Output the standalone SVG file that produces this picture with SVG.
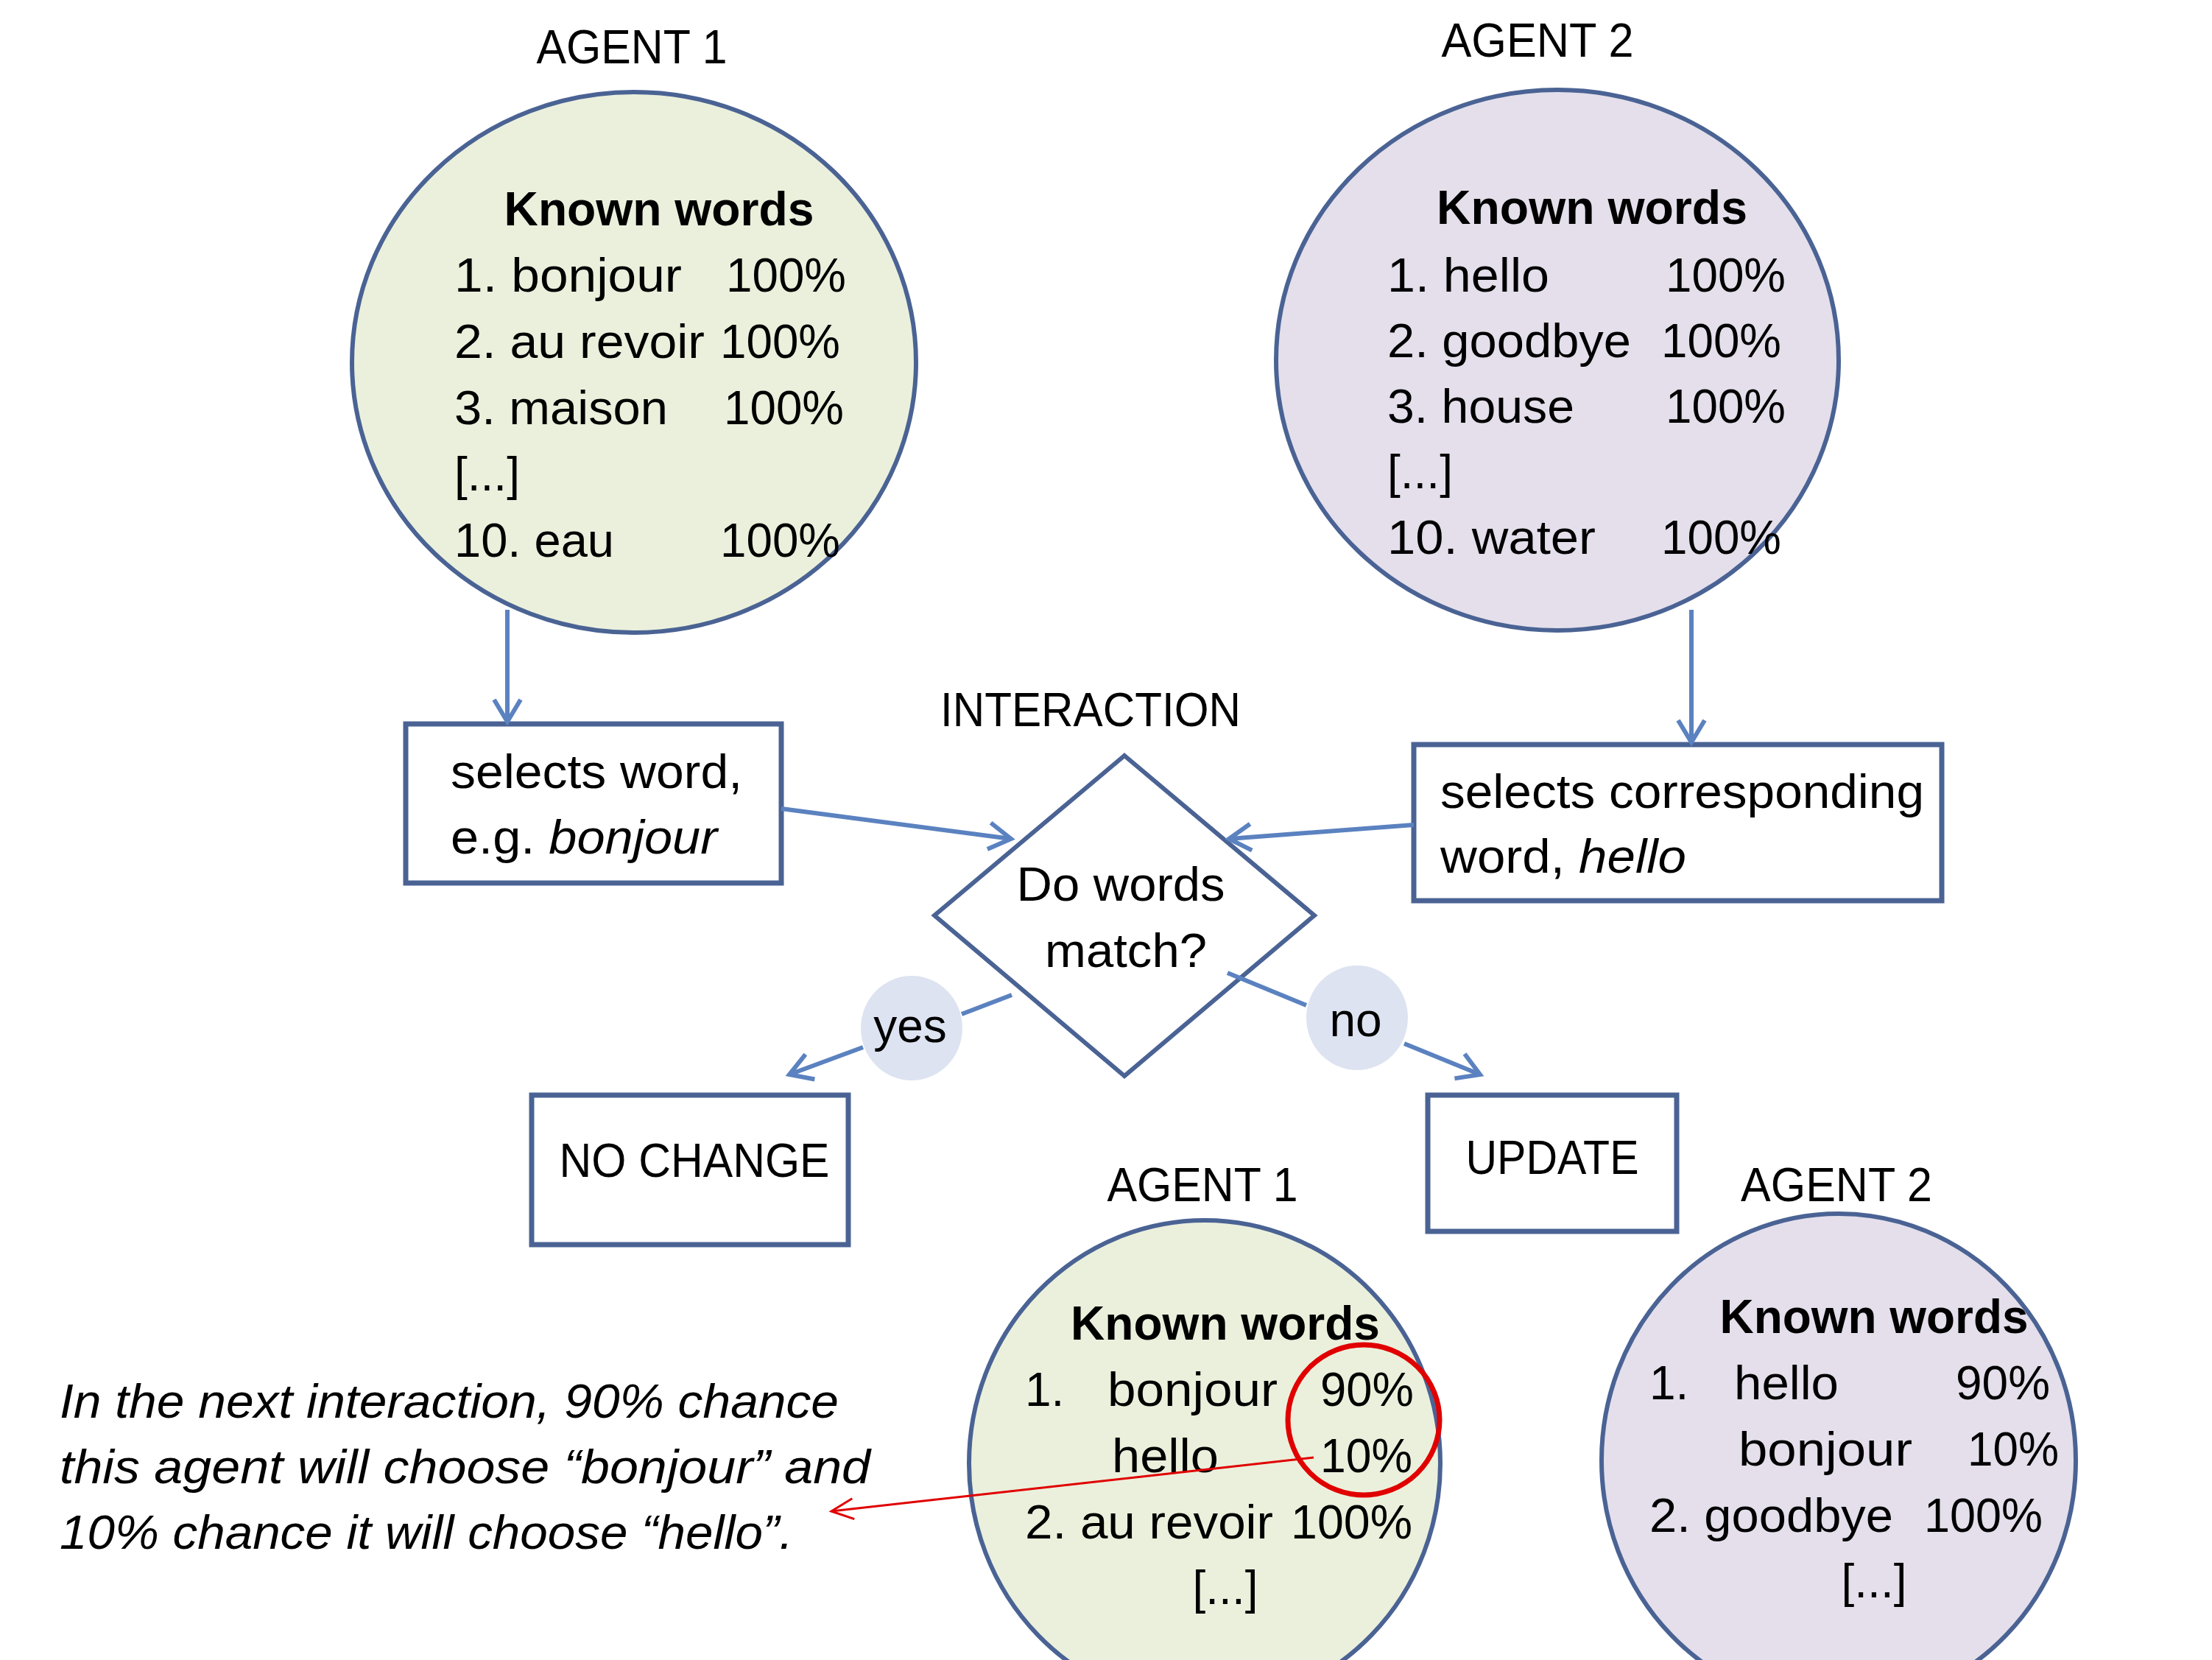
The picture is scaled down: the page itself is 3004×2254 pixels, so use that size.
<svg xmlns="http://www.w3.org/2000/svg" width="3004" height="2254" viewBox="0 0 3004 2254">
<defs>
<style>
text{font-family:"Liberation Sans",Arial,sans-serif;font-size:64px;fill:#000}
.b{font-weight:bold}
.i{font-style:italic}
.mid{text-anchor:middle}
.green{fill:#EBF0DC;stroke:#4A6394;stroke-width:6}
.purple{fill:#E4DFEB;stroke:#4A6394;stroke-width:6}
.box{fill:#fff;stroke:#4A6394;stroke-width:7}
.lbl{fill:#DDE3F0;stroke:none}
.arr{fill:none;stroke:#5B82C0;stroke-width:6}
.red{fill:none;stroke:#E00000}
</style>
<marker id="ah" markerUnits="userSpaceOnUse" viewBox="-40 -30 50 60" refX="0" refY="0" markerWidth="50" markerHeight="60" orient="auto" overflow="visible">
<path d="M-30,-18 L0,0 L-30,18" fill="none" stroke="#5B82C0" stroke-width="6"/>
</marker>
<marker id="rh" markerUnits="userSpaceOnUse" viewBox="-40 -30 50 60" refX="0" refY="0" markerWidth="50" markerHeight="60" orient="auto" overflow="visible">
<path d="M-30,-14 L0,0 L-30,14" fill="none" stroke="#E00000" stroke-width="3"/>
</marker>
</defs>
<rect width="3004" height="2254" fill="#fff"/>

<g id="agent1-top">
<text class="mid" x="858" y="86" textLength="259" lengthAdjust="spacingAndGlyphs">AGENT 1</text>
<ellipse class="green" cx="861" cy="492" rx="383" ry="367"/>
<text class="b mid" x="895" y="306" textLength="421" lengthAdjust="spacingAndGlyphs">Known words</text>
<text x="617" y="396" textLength="309" lengthAdjust="spacingAndGlyphs">1. bonjour</text>
<text x="986" y="396" textLength="163" lengthAdjust="spacingAndGlyphs">100%</text>
<text x="617" y="486" textLength="340" lengthAdjust="spacingAndGlyphs">2. au revoir</text>
<text x="978" y="486" textLength="163" lengthAdjust="spacingAndGlyphs">100%</text>
<text x="617" y="576" textLength="290" lengthAdjust="spacingAndGlyphs">3. maison</text>
<text x="983" y="576" textLength="163" lengthAdjust="spacingAndGlyphs">100%</text>
<text x="617" y="666">[...]</text>
<text x="617" y="756" textLength="217" lengthAdjust="spacingAndGlyphs">10. eau</text>
<text x="978" y="756" textLength="163" lengthAdjust="spacingAndGlyphs">100%</text>
</g>

<g id="agent2-top">
<text class="mid" x="2088" y="77" textLength="261" lengthAdjust="spacingAndGlyphs">AGENT 2</text>
<ellipse class="purple" cx="2115" cy="489" rx="382" ry="367"/>
<text class="b mid" x="2162" y="304" textLength="422" lengthAdjust="spacingAndGlyphs">Known words</text>
<text x="1884" y="396" textLength="220" lengthAdjust="spacingAndGlyphs">1. hello</text>
<text x="2262" y="396" textLength="163" lengthAdjust="spacingAndGlyphs">100%</text>
<text x="1884" y="485" textLength="331" lengthAdjust="spacingAndGlyphs">2. goodbye</text>
<text x="2256" y="485" textLength="163" lengthAdjust="spacingAndGlyphs">100%</text>
<text x="1884" y="574" textLength="254" lengthAdjust="spacingAndGlyphs">3. house</text>
<text x="2262" y="574" textLength="163" lengthAdjust="spacingAndGlyphs">100%</text>
<text x="1884" y="663">[...]</text>
<text x="1884" y="752" textLength="283" lengthAdjust="spacingAndGlyphs">10. water</text>
<text x="2256" y="752" textLength="163" lengthAdjust="spacingAndGlyphs">100%</text>
</g>

<g id="select1">
<rect class="box" x="551" y="983" width="510" height="216"/>
<text x="612" y="1070" textLength="396" lengthAdjust="spacingAndGlyphs">selects word,</text>
<text x="612" y="1159" textLength="362" lengthAdjust="spacingAndGlyphs">e.g. <tspan class="i">bonjour</tspan></text>
</g>

<g id="select2">
<rect class="box" x="1920" y="1011" width="717" height="212"/>
<text x="1956" y="1097" textLength="657" lengthAdjust="spacingAndGlyphs">selects corresponding</text>
<text x="1956" y="1185" textLength="334" lengthAdjust="spacingAndGlyphs">word, <tspan class="i">hello</tspan></text>
</g>

<g id="interaction">
<text class="mid" x="1481" y="986" textLength="408" lengthAdjust="spacingAndGlyphs">INTERACTION</text>
<polygon points="1527,1026 1785,1243 1527,1461 1269,1243" fill="#fff" stroke="#4A6394" stroke-width="6"/>
<text class="mid" x="1522" y="1223" textLength="283" lengthAdjust="spacingAndGlyphs">Do words</text>
<text class="mid" x="1529" y="1313" textLength="220" lengthAdjust="spacingAndGlyphs">match?</text>
</g>

<g id="nochange">
<rect class="box" x="722" y="1487" width="430" height="203"/>
<text class="mid" x="943" y="1598" textLength="367" lengthAdjust="spacingAndGlyphs">NO CHANGE</text>
</g>

<g id="update">
<rect class="box" x="1939" y="1487" width="338" height="185"/>
<text class="mid" x="2108" y="1594" textLength="235" lengthAdjust="spacingAndGlyphs">UPDATE</text>
</g>

<g id="connectors">
<line class="arr" x1="689" y1="828" x2="689" y2="980" marker-end="url(#ah)"/>
<line class="arr" x1="2297" y1="828" x2="2297" y2="1008" marker-end="url(#ah)"/>
<line class="arr" x1="1061" y1="1098" x2="1373" y2="1139" marker-end="url(#ah)"/>
<line class="arr" x1="1920" y1="1120" x2="1669" y2="1139" marker-end="url(#ah)"/>
<line class="arr" x1="1374" y1="1351" x2="1306" y2="1377"/>
<line class="arr" x1="1172" y1="1422" x2="1072" y2="1459" marker-end="url(#ah)"/>
<line class="arr" x1="1667" y1="1321" x2="1774" y2="1365"/>
<line class="arr" x1="1907" y1="1417" x2="2010" y2="1459" marker-end="url(#ah)"/>
</g>

<g id="yes">
<ellipse class="lbl" cx="1238" cy="1396" rx="69" ry="71"/>
<text class="mid" x="1236" y="1415">yes</text>
</g>

<g id="no">
<ellipse class="lbl" cx="1843" cy="1382" rx="69" ry="71"/>
<text class="mid" x="1841" y="1407">no</text>
</g>

<g id="agent1-bottom">
<text class="mid" x="1633" y="1631" textLength="259" lengthAdjust="spacingAndGlyphs">AGENT 1</text>
<ellipse class="green" cx="1636" cy="1987" rx="320" ry="330"/>
<text class="b mid" x="1664" y="1819" textLength="420" lengthAdjust="spacingAndGlyphs">Known words</text>
<text x="1392" y="1909">1.</text>
<text x="1504" y="1909" textLength="231" lengthAdjust="spacingAndGlyphs">bonjour</text>
<text x="1793" y="1909" textLength="127" lengthAdjust="spacingAndGlyphs">90%</text>
<text x="1510" y="1999" textLength="145" lengthAdjust="spacingAndGlyphs">hello</text>
<text x="1793" y="1999" textLength="125" lengthAdjust="spacingAndGlyphs">10%</text>
<text x="1392" y="2089" textLength="337" lengthAdjust="spacingAndGlyphs">2. au revoir</text>
<text x="1753" y="2089" textLength="165" lengthAdjust="spacingAndGlyphs">100%</text>
<text class="mid" x="1664" y="2178">[...]</text>
</g>

<g id="agent2-bottom">
<text class="mid" x="2494" y="1631" textLength="260" lengthAdjust="spacingAndGlyphs">AGENT 2</text>
<ellipse class="purple" cx="2497" cy="1983" rx="322" ry="335"/>
<text class="b mid" x="2545" y="1810" textLength="419" lengthAdjust="spacingAndGlyphs">Known words</text>
<text x="2240" y="1900">1.</text>
<text x="2355" y="1900" textLength="142" lengthAdjust="spacingAndGlyphs">hello</text>
<text x="2656" y="1900" textLength="128" lengthAdjust="spacingAndGlyphs">90%</text>
<text x="2361" y="1990" textLength="236" lengthAdjust="spacingAndGlyphs">bonjour</text>
<text x="2672" y="1990" textLength="124" lengthAdjust="spacingAndGlyphs">10%</text>
<text x="2240" y="2080" textLength="331" lengthAdjust="spacingAndGlyphs">2. goodbye</text>
<text x="2613" y="2080" textLength="161" lengthAdjust="spacingAndGlyphs">100%</text>
<text class="mid" x="2545" y="2169">[...]</text>
</g>

<g id="annotation">
<ellipse class="red" cx="1852" cy="1928" rx="103" ry="102" stroke-width="7"/>
<line class="red" x1="1784" y1="1979" x2="1129" y2="2052" stroke-width="3" marker-end="url(#rh)"/>
<text class="i" x="81" y="1925" textLength="1058" lengthAdjust="spacingAndGlyphs">In the next interaction, 90% chance</text>
<text class="i" x="81" y="2014" textLength="1101" lengthAdjust="spacingAndGlyphs">this agent will choose “bonjour” and</text>
<text class="i" x="81" y="2103" textLength="996" lengthAdjust="spacingAndGlyphs">10% chance it will choose “hello”.</text>
</g>
</svg>
